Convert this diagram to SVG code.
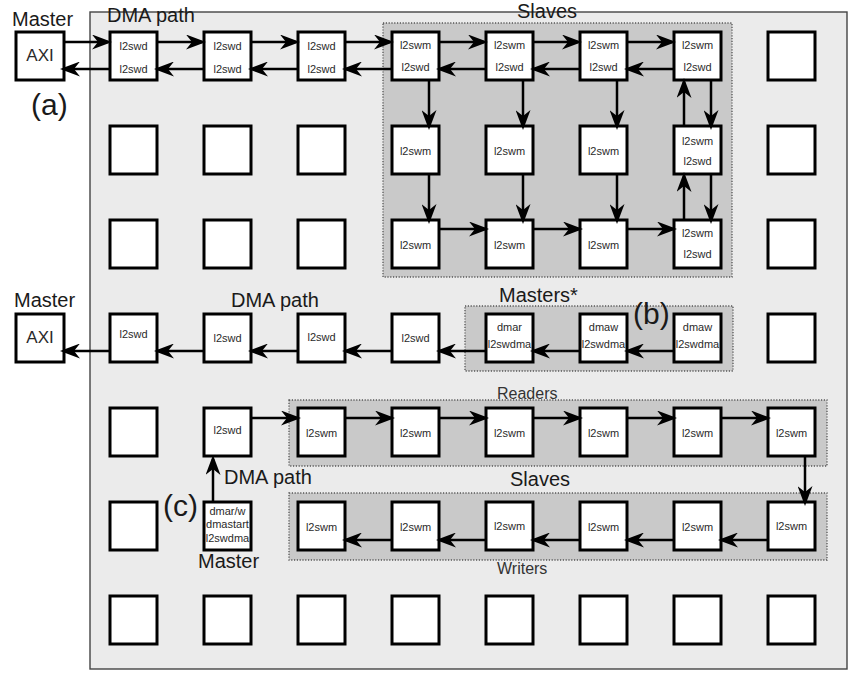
<svg xmlns="http://www.w3.org/2000/svg" width="856" height="674" viewBox="0 0 856 674">
<defs>
<style>
.lbl{font-family:"Liberation Sans",Arial,sans-serif;font-size:20px;fill:#1a1a1a}
.big{font-family:"Liberation Sans",Arial,sans-serif;font-size:30px;fill:#1a1a1a}
.sm{font-family:"Liberation Sans",Arial,sans-serif;font-size:16px;fill:#333}
.nd rect{fill:#fff;stroke:#000;stroke-width:3}
.nd text{font-family:"Liberation Sans",Arial,sans-serif;font-size:11px;fill:#2a2a2a;text-anchor:middle}
.reg{fill:#c9c9c9;stroke:#555;stroke-width:1.3;stroke-dasharray:1.2 1.6}
#connectors line{stroke:#000;stroke-width:2.5;marker-end:url(#ah)}
</style>
<marker id="ah" markerUnits="userSpaceOnUse" markerWidth="20" markerHeight="15" refX="16" refY="7.5" orient="auto" viewBox="0 0 20 15">
<path d="M0,0 L20,7.5 L0,15 L6,7.5 z" fill="#000"/>
</marker>
</defs>
<rect width="856" height="674" fill="#fff"/>
<rect id="panel" x="90" y="12" width="757" height="657" fill="#ebebeb" stroke="#444" stroke-width="1.4"/>
<g id="regions">
<rect class="reg" x="383" y="23" width="349" height="254"/>
<rect class="reg" x="465" y="306" width="268" height="65"/>
<rect class="reg" x="289" y="400" width="538" height="66"/>
<rect class="reg" x="289" y="493" width="538" height="67"/>
</g>
<g id="labels">
<text class="lbl" x="12" y="26">Master</text>
<text class="lbl" x="107" y="22">DMA path</text>
<text class="lbl" x="517" y="18" font-size="21">Slaves</text>
<text class="big" x="31" y="115">(a)</text>
<text class="lbl" x="14" y="307">Master</text>
<text class="lbl" x="231" y="307">DMA path</text>
<text class="lbl" x="499" y="302">Masters*</text>
<text class="big" x="633" y="324">(b)</text>
<text class="sm" x="497" y="399">Readers</text>
<text class="lbl" x="510" y="486">Slaves</text>
<text class="lbl" x="224" y="484">DMA path</text>
<text class="big" x="163" y="516">(c)</text>
<text class="lbl" x="198" y="568">Master</text>
<text class="sm" x="497" y="574">Writers</text>
</g>
<g id="nodes">
<g id="axi-a" class="nd"><rect x="16" y="32" width="48" height="48"/><text x="40" y="61" style="font-size:17px">AXI</text></g>
<g id="axi-b" class="nd"><rect x="16" y="314" width="48" height="48"/><text x="40" y="343" style="font-size:17px">AXI</text></g>
<g id="n0-0" class="nd"><rect x="110" y="32" width="47" height="48"/><text x="133.5" y="50">l2swd</text><text x="133.5" y="73">l2swd</text></g>
<g id="n0-1" class="nd"><rect x="204" y="32" width="47" height="48"/><text x="227.5" y="50">l2swd</text><text x="227.5" y="73">l2swd</text></g>
<g id="n0-2" class="nd"><rect x="298" y="32" width="47" height="48"/><text x="321.5" y="50">l2swd</text><text x="321.5" y="73">l2swd</text></g>
<g id="n0-3" class="nd"><rect x="392" y="32" width="47" height="48"/><text x="415.5" y="49">l2swm</text><text x="415.5" y="71">l2swd</text></g>
<g id="n0-4" class="nd"><rect x="486" y="32" width="47" height="48"/><text x="509.5" y="49">l2swm</text><text x="509.5" y="71">l2swd</text></g>
<g id="n0-5" class="nd"><rect x="580" y="32" width="47" height="48"/><text x="603.5" y="49">l2swm</text><text x="603.5" y="71">l2swd</text></g>
<g id="n0-6" class="nd"><rect x="674" y="32" width="47" height="48"/><text x="697.5" y="49">l2swm</text><text x="697.5" y="71">l2swd</text></g>
<g id="n0-7" class="nd"><rect x="768" y="32" width="47" height="48"/></g>
<g id="n1-0" class="nd"><rect x="110" y="126" width="47" height="48"/></g>
<g id="n1-1" class="nd"><rect x="204" y="126" width="47" height="48"/></g>
<g id="n1-2" class="nd"><rect x="298" y="126" width="47" height="48"/></g>
<g id="n1-3" class="nd"><rect x="392" y="126" width="47" height="48"/><text x="415.5" y="155">l2swm</text></g>
<g id="n1-4" class="nd"><rect x="486" y="126" width="47" height="48"/><text x="509.5" y="155">l2swm</text></g>
<g id="n1-5" class="nd"><rect x="580" y="126" width="47" height="48"/><text x="603.5" y="155">l2swm</text></g>
<g id="n1-6" class="nd"><rect x="674" y="126" width="47" height="48"/><text x="697.5" y="145">l2swm</text><text x="697.5" y="165">l2swd</text></g>
<g id="n1-7" class="nd"><rect x="768" y="126" width="47" height="48"/></g>
<g id="n2-0" class="nd"><rect x="110" y="220" width="47" height="48"/></g>
<g id="n2-1" class="nd"><rect x="204" y="220" width="47" height="48"/></g>
<g id="n2-2" class="nd"><rect x="298" y="220" width="47" height="48"/></g>
<g id="n2-3" class="nd"><rect x="392" y="220" width="47" height="48"/><text x="415.5" y="249">l2swm</text></g>
<g id="n2-4" class="nd"><rect x="486" y="220" width="47" height="48"/><text x="509.5" y="249">l2swm</text></g>
<g id="n2-5" class="nd"><rect x="580" y="220" width="47" height="48"/><text x="603.5" y="249">l2swm</text></g>
<g id="n2-6" class="nd"><rect x="674" y="220" width="47" height="48"/><text x="697.5" y="237">l2swm</text><text x="697.5" y="258">l2swd</text></g>
<g id="n2-7" class="nd"><rect x="768" y="220" width="47" height="48"/></g>
<g id="n3-0" class="nd"><rect x="110" y="314" width="47" height="48"/><text x="133.5" y="338">l2swd</text></g>
<g id="n3-1" class="nd"><rect x="204" y="314" width="47" height="48"/><text x="227.5" y="342">l2swd</text></g>
<g id="n3-2" class="nd"><rect x="298" y="314" width="47" height="48"/><text x="321.5" y="341">l2swd</text></g>
<g id="n3-3" class="nd"><rect x="392" y="314" width="47" height="48"/><text x="415.5" y="342">l2swd</text></g>
<g id="n3-4" class="nd"><rect x="486" y="314" width="47" height="48"/><text x="509.5" y="331">dmar</text><text x="509.5" y="348">l2swdma</text></g>
<g id="n3-5" class="nd"><rect x="580" y="314" width="47" height="48"/><text x="603.5" y="331">dmaw</text><text x="603.5" y="348">l2swdma</text></g>
<g id="n3-6" class="nd"><rect x="674" y="314" width="47" height="48"/><text x="697.5" y="331">dmaw</text><text x="697.5" y="348">l2swdma</text></g>
<g id="n3-7" class="nd"><rect x="768" y="314" width="47" height="48"/></g>
<g id="n4-0" class="nd"><rect x="110" y="408" width="47" height="48"/></g>
<g id="n4-1" class="nd"><rect x="204" y="408" width="47" height="48"/><text x="227.5" y="434">l2swd</text></g>
<g id="n4-2" class="nd"><rect x="298" y="408" width="47" height="48"/><text x="321.5" y="437">l2swm</text></g>
<g id="n4-3" class="nd"><rect x="392" y="408" width="47" height="48"/><text x="415.5" y="437">l2swm</text></g>
<g id="n4-4" class="nd"><rect x="486" y="408" width="47" height="48"/><text x="509.5" y="437">l2swm</text></g>
<g id="n4-5" class="nd"><rect x="580" y="408" width="47" height="48"/><text x="603.5" y="437">l2swm</text></g>
<g id="n4-6" class="nd"><rect x="674" y="408" width="47" height="48"/><text x="697.5" y="437">l2swm</text></g>
<g id="n4-7" class="nd"><rect x="768" y="408" width="47" height="48"/><text x="791.5" y="437">l2swm</text></g>
<g id="n5-0" class="nd"><rect x="110" y="502" width="47" height="48"/></g>
<g id="n5-1" class="nd"><rect x="204" y="502" width="47" height="48"/><text x="227.5" y="515">dmar/w</text><text x="227.5" y="528">dmastart</text><text x="227.5" y="542">l2swdma</text></g>
<g id="n5-2" class="nd"><rect x="298" y="502" width="47" height="48"/><text x="321.5" y="531">l2swm</text></g>
<g id="n5-3" class="nd"><rect x="392" y="502" width="47" height="48"/><text x="415.5" y="531">l2swm</text></g>
<g id="n5-4" class="nd"><rect x="486" y="502" width="47" height="48"/><text x="509.5" y="530">l2swm</text></g>
<g id="n5-5" class="nd"><rect x="580" y="502" width="47" height="48"/><text x="603.5" y="531">l2swm</text></g>
<g id="n5-6" class="nd"><rect x="674" y="502" width="47" height="48"/><text x="697.5" y="531">l2swm</text></g>
<g id="n5-7" class="nd"><rect x="768" y="502" width="47" height="48"/><text x="791.5" y="530">l2swm</text></g>
<g id="n6-0" class="nd"><rect x="110" y="596" width="47" height="48"/></g>
<g id="n6-1" class="nd"><rect x="204" y="596" width="47" height="48"/></g>
<g id="n6-2" class="nd"><rect x="298" y="596" width="47" height="48"/></g>
<g id="n6-3" class="nd"><rect x="392" y="596" width="47" height="48"/></g>
<g id="n6-4" class="nd"><rect x="486" y="596" width="47" height="48"/></g>
<g id="n6-5" class="nd"><rect x="580" y="596" width="47" height="48"/></g>
<g id="n6-6" class="nd"><rect x="674" y="596" width="47" height="48"/></g>
<g id="n6-7" class="nd"><rect x="768" y="596" width="47" height="48"/></g>
</g>
<g id="connectors">
<line x1="65" y1="42" x2="108" y2="42"/>
<line x1="158" y1="42" x2="202" y2="42"/>
<line x1="252" y1="42" x2="296" y2="42"/>
<line x1="346" y1="42" x2="390" y2="42"/>
<line x1="440" y1="42" x2="484" y2="42"/>
<line x1="534" y1="42" x2="578" y2="42"/>
<line x1="628" y1="42" x2="672" y2="42"/>
<line x1="109" y1="69" x2="64" y2="69"/>
<line x1="203" y1="69" x2="158" y2="69"/>
<line x1="297" y1="69" x2="252" y2="69"/>
<line x1="391" y1="69" x2="346" y2="69"/>
<line x1="485" y1="69" x2="440" y2="69"/>
<line x1="579" y1="69" x2="534" y2="69"/>
<line x1="673" y1="69" x2="628" y2="69"/>
<line x1="429" y1="81" x2="429" y2="126"/>
<line x1="429" y1="175" x2="429" y2="220"/>
<line x1="523" y1="81" x2="523" y2="126"/>
<line x1="523" y1="175" x2="523" y2="220"/>
<line x1="617" y1="81" x2="617" y2="126"/>
<line x1="617" y1="175" x2="617" y2="220"/>
<line x1="711" y1="81" x2="711" y2="126"/>
<line x1="711" y1="175" x2="711" y2="220"/>
<line x1="684" y1="219" x2="684" y2="176"/>
<line x1="684" y1="125" x2="684" y2="82"/>
<line x1="440" y1="229" x2="485" y2="229"/>
<line x1="534" y1="229" x2="579" y2="229"/>
<line x1="628" y1="229" x2="673" y2="229"/>
<line x1="673" y1="351" x2="628" y2="351"/>
<line x1="579" y1="351" x2="534" y2="351"/>
<line x1="485" y1="351" x2="440" y2="351"/>
<line x1="391" y1="351" x2="346" y2="351"/>
<line x1="297" y1="351" x2="252" y2="351"/>
<line x1="203" y1="351" x2="158" y2="351"/>
<line x1="109" y1="351" x2="64" y2="351"/>
<line x1="252" y1="418" x2="297" y2="418"/>
<line x1="346" y1="418" x2="391" y2="418"/>
<line x1="440" y1="418" x2="485" y2="418"/>
<line x1="534" y1="418" x2="579" y2="418"/>
<line x1="628" y1="418" x2="673" y2="418"/>
<line x1="722" y1="418" x2="767" y2="418"/>
<line x1="805" y1="457" x2="805" y2="502"/>
<line x1="767" y1="540" x2="722" y2="540"/>
<line x1="673" y1="540" x2="628" y2="540"/>
<line x1="579" y1="540" x2="534" y2="540"/>
<line x1="485" y1="540" x2="440" y2="540"/>
<line x1="391" y1="540" x2="346" y2="540"/>
<line x1="213" y1="501" x2="213" y2="459"/>
</g>
</svg>
